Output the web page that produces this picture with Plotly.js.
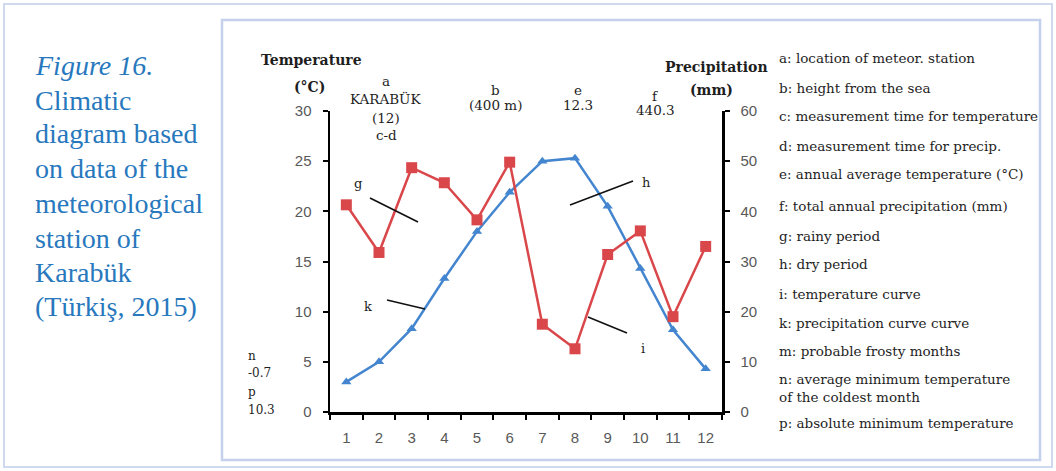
<!DOCTYPE html>
<html>
<head>
<meta charset="utf-8">
<script src="https://cdn.plot.ly/plotly-3.0.1.min.js"></script>
<style>
  html, body { margin: 0; padding: 0; background: #ffffff; }
  #chart { width: 1056px; height: 471px; }
</style>
</head>
<body>
<div id="chart"></div>
<script>
// ---- data ----
const months = [1, 2, 3, 4, 5, 6, 7, 8, 9, 10, 11, 12];
const monthLabels = ['1', '2', '3', '4', '5', '6', '7', '8', '9', '10', '11', '12'];
const temperature = [3.0, 5.0, 8.3, 13.3, 18.0, 21.9, 25.0, 25.3, 20.5, 14.3, 8.2, 4.3];
const precipitation = [41.3, 31.8, 48.7, 45.7, 38.3, 49.8, 17.5, 12.6, 31.4, 36.1, 19.0, 33.0];
const tempTicks = [0, 5, 10, 15, 20, 25, 30];
const precTicks = [0, 10, 20, 30, 40, 50, 60];

const captionLines = ['<i>Figure 16.</i>', 'Climatic', 'diagram based', 'on data of the',
  'meteorological', 'station of', 'Karabük', '(Türkiş, 2015)'];
const stationLines = ['a', 'KARABÜK', '(12)', 'c-d'];
const heightLines = ['b', '(400 m)'];
const meanTempLines = ['e', '12.3'];
const totalPrecLines = ['f', '440.3'];
const minTempLines = ['n', '-0.7', 'p', '10.3'];
const keyLines = [
  'a: location of meteor. station',
  'b: height from the sea',
  'c: measurement time for temperature',
  'd: measurement time for precip.',
  'e: annual average temperature (°C)',
  'f: total annual precipitation (mm)',
  'g: rainy period',
  'h: dry period',
  'i: temperature curve',
  'k: precipitation curve curve',
  'm: probable frosty months',
  'n: average minimum temperature<br>of the coldest month',
  'p: absolute minimum temperature'
];
const pointerLetters = ['g', 'h', 'k', 'i'];

// ---- layout helpers (pixel -> paper) ----
const W = 1056, H = 471;
const PL = 330, PR = 722, PT = 111, PB = 412;
const xp = px => (px - PL) / (PR - PL);
const yp = py => (PB - py) / (PB - PT);

const serif = 'DejaVu Serif, serif';
const txtColor = '#1e1e1e';
const annotations = [];
function addText(text, px, py, opts) {
  opts = opts || {};
  annotations.push({
    text: text, xref: 'paper', yref: 'paper', x: xp(px), y: yp(py),
    xanchor: opts.xanchor || 'center', yanchor: 'middle', showarrow: false,
    align: opts.align || 'center',
    font: { family: opts.family || serif, size: opts.size || 13, color: opts.color || txtColor,
            weight: opts.weight || 'normal' }
  });
}

// caption (left)
const capY = [65, 100, 134, 168, 203, 238, 272, 306];
captionLines.forEach((t, i) => addText(t, 33, capY[i],
  { xanchor: 'left', align: 'left', family: 'Liberation Serif, serif', size: 28, color: '#2878bd' }));

// axis headers
addText('<b>Temperature</b>', 311, 60, { size: 14 });
addText('<b>(°C)</b>', 309, 87, { size: 14 });
addText('<b>Precipitation</b>', 716, 67, { size: 14 });
addText('<b>(mm)</b>', 711, 90, { size: 14 });

// station info
const stationY = [81, 99, 118, 135];
stationLines.forEach((t, i) => addText(t, 386, stationY[i], { size: 13.5 }));
const infoY = [90, 105];
heightLines.forEach((t, i) => addText(t, 495, infoY[i], { size: 13.5 }));
meanTempLines.forEach((t, i) => addText(t, 578, infoY[i], { size: 13.5 }));
const precInfoY = [96, 110];
totalPrecLines.forEach((t, i) => addText(t, 655, precInfoY[i], { size: 13.5 }));

// min temperature block
const minY = [356, 373, 392, 410];
minTempLines.forEach((t, i) => addText(t, 246, minY[i], { xanchor: 'left', align: 'left', size: 12 }));

// key (right)
const keyY = [58, 88, 116, 146, 174, 206, 236, 264, 294, 323, 351, 388, 423];
keyLines.forEach((t, i) => addText(t, 777, keyY[i], { xanchor: 'left', align: 'left', size: 13.5 }));

// pointer labels and lines
const pointerLabelPos = [[358, 183], [646, 182], [368, 306], [643, 348]];
const pointerLines = [[370, 198, 418, 222], [570, 205, 633, 181], [387, 300, 425, 309], [588, 317, 627, 333]];
pointerLetters.forEach((t, i) => addText(t, pointerLabelPos[i][0], pointerLabelPos[i][1], { size: 13 }));

const shapes = [];
pointerLines.forEach(l => shapes.push({
  type: 'line', xref: 'paper', yref: 'paper', layer: 'above',
  x0: xp(l[0]), y0: yp(l[1]), x1: xp(l[2]), y1: yp(l[3]),
  line: { color: '#111', width: 1.6 }
}));
// frames
function rectPx(x0, y0, x1, y1, color, width) {
  shapes.push({ type: 'rect', xref: 'paper', yref: 'paper', layer: 'above',
    x0: xp(x0), y0: yp(y0), x1: xp(x1), y1: yp(y1),
    line: { color: color, width: width }, fillcolor: 'rgba(0,0,0,0)' });
}
rectPx(4, 4, 1052, 467, '#cfd9ef', 2);
rectPx(222, 20, 1040, 460, '#c4d1ec', 2.5);

const tickFont = { family: 'Liberation Sans, Arial, sans-serif', size: 15, color: '#595959' };
const boundaries = months.map(m => m - 0.5).concat([months[months.length - 1] + 0.5]);

const traces = [
  { x: months, y: temperature, yaxis: 'y', type: 'scatter', mode: 'lines+markers',
    name: 'Temperature (°C)',
    line: { color: '#4385cf', width: 2.5 },
    marker: { symbol: 'triangle-up', size: 9, color: '#4385cf' } },
  { x: months, y: precipitation, yaxis: 'y2', type: 'scatter', mode: 'lines+markers',
    name: 'Precipitation (mm)',
    line: { color: '#d9474b', width: 2.5 },
    marker: { symbol: 'square', size: 11, color: '#d9474b' } }
];

const layout = {
  width: W, height: H,
  margin: { l: PL, r: W - PR, t: PT, b: H - PB, pad: 0 },
  paper_bgcolor: '#ffffff', plot_bgcolor: '#ffffff',
  showlegend: false,
  xaxis: {
    range: [0.5, 12.5], tickmode: 'array', tickvals: months, ticktext: monthLabels,
    ticks: '', showgrid: false, zeroline: false,
    showline: true, linecolor: '#000', linewidth: 2.5,
    tickfont: tickFont, ticklabelstandoff: 10,
    minor: { tickmode: 'array', tickvals: boundaries, ticks: 'outside', ticklen: 5,
             tickwidth: 2, tickcolor: '#000', showgrid: false }
  },
  yaxis: {
    range: [0, 30], tickmode: 'array', tickvals: tempTicks,
    ticks: 'outside', ticklen: 5, tickwidth: 2, tickcolor: '#000',
    showgrid: false, zeroline: false, showline: true, linecolor: '#000', linewidth: 2.5,
    tickfont: tickFont, ticklabelstandoff: 8
  },
  yaxis2: {
    range: [0, 60], tickmode: 'array', tickvals: precTicks, overlaying: 'y', side: 'right',
    ticks: 'outside', ticklen: 5, tickwidth: 2, tickcolor: '#000',
    showgrid: false, zeroline: false, showline: true, linecolor: '#000', linewidth: 2.5,
    tickfont: tickFont, ticklabelstandoff: 8
  },
  annotations: annotations,
  shapes: shapes
};

Plotly.newPlot('chart', traces, layout, { staticPlot: true, displayModeBar: false });
</script>
</body>
</html>
